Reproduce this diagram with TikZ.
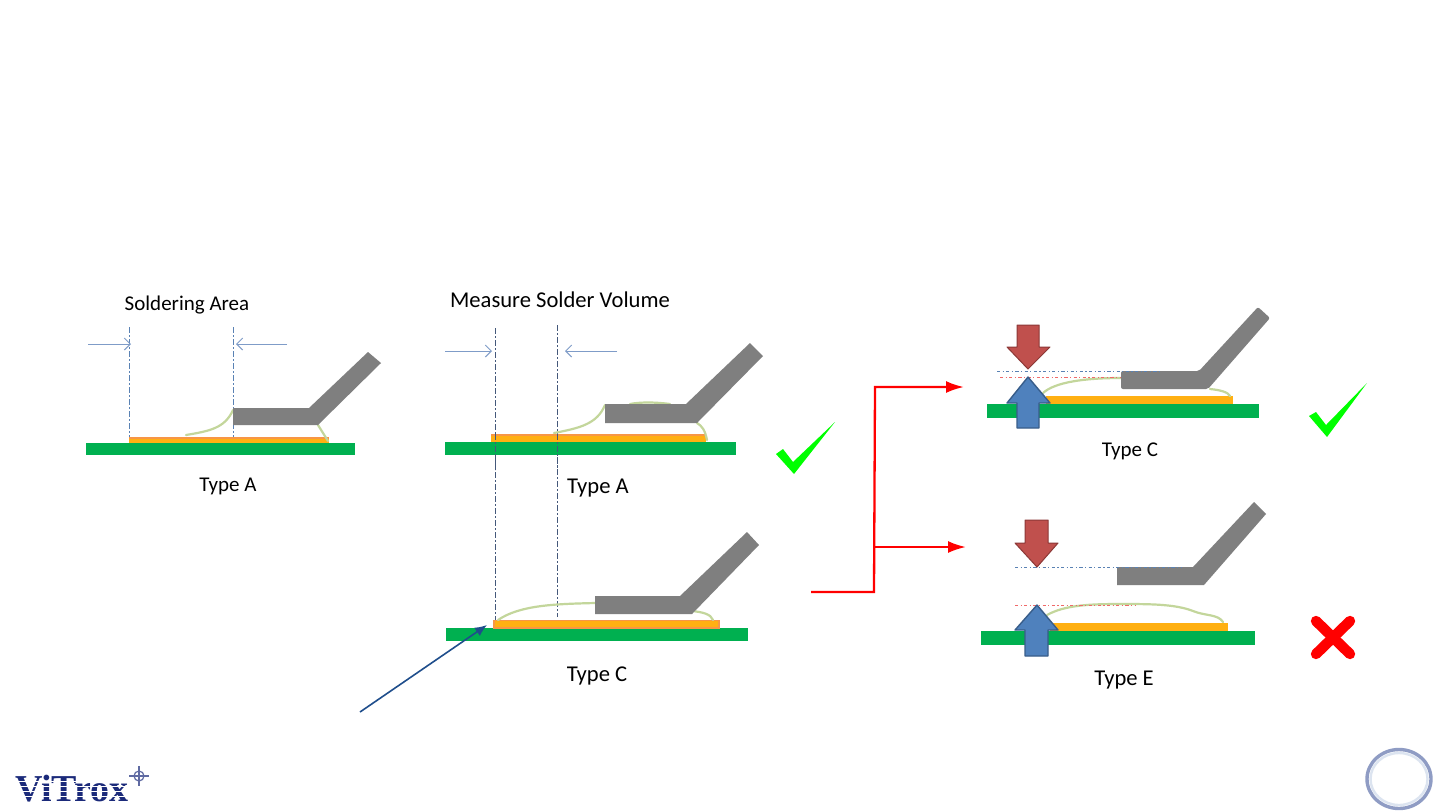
\documentclass[tikz,border=0pt]{standalone}
\usepackage{fontspec}
\setmainfont{Carlito}
\newfontfamily\logofont{Liberation Serif}
\usetikzlibrary{arrows.meta}
\definecolor{pcbgreen}{HTML}{00B050}
\definecolor{padorange}{HTML}{FFB012}
\definecolor{padedge}{HTML}{F79646}
\definecolor{leadgray}{HTML}{7F7F7F}
\definecolor{solder}{HTML}{C3D69B}
\definecolor{dimblue}{HTML}{7F9CC8}
\definecolor{guide}{HTML}{5A82B4}
\definecolor{guidedark}{HTML}{44587A}
\definecolor{guidered}{HTML}{F06A6A}
\definecolor{navy}{HTML}{1F4E8C}
\definecolor{upblue}{HTML}{4F81BD}
\definecolor{upblueedge}{HTML}{385D8A}
\definecolor{downred}{HTML}{C0504D}
\definecolor{downrededge}{HTML}{8C3836}
\definecolor{tick}{HTML}{00FF00}
\definecolor{logoblue}{HTML}{1B2A7A}
\definecolor{ringouter}{HTML}{8F9CC4}
\definecolor{ringinner}{HTML}{DCE4F0}
\tikzset{
  board/.style={fill=pcbgreen,draw=none},
  pad/.style={fill=padorange,draw=padedge,line width=0.7pt},
  padplain/.style={fill=padorange,draw=none},
  lead/.style={fill=leadgray,draw=none},
  joint/.style={draw=solder,line width=1.1pt,line cap=round},
  guideline/.style={draw=guide,line width=0.4pt,dash pattern=on 3pt off 1.2pt on 0.6pt off 1.2pt},
  guidelinedark/.style={guideline,draw=guidedark},
  levelblue/.style={draw=guide,line width=0.45pt,dash pattern=on 1.6pt off 1.2pt on 0.6pt off 1.2pt},
  levelred/.style={draw=guidered,line width=0.45pt,dash pattern=on 1.6pt off 1.2pt on 0.6pt off 1.2pt},
  dimarrow/.style={draw=dimblue,line width=0.5pt,-{Straight Barb[length=3pt,width=6pt]}},
  redline/.style={draw=red,line width=1.15pt},
  redarrow/.style={redline,-{Latex[length=9pt,width=6pt]}},
  navyarrow/.style={draw=navy,line width=0.8pt,-{Latex[length=6pt,width=5pt]}},
  uparrow/.style={fill=upblue,draw=upblueedge,line width=0.7pt,line join=round},
  downarrow/.style={fill=downred,draw=downrededge,line width=0.5pt,line join=round},
  tickmark/.style={fill=tick,draw=none},
  lbl/.style={text=black,inner sep=0pt},
  lblS/.style={lbl,font=\fontsize{10.5pt}{12pt}\selectfont},
  lblL/.style={lbl,font=\fontsize{11.3pt}{13pt}\selectfont},
}
\begin{document}
\begin{tikzpicture}[x=0.5pt,y=-0.5pt]
\useasboundingbox[fill=white] (0,0) rectangle (1440,810);

% ---- left panel
\draw[guideline] (129,327) -- (129,437);
\draw[guideline] (233,327) -- (233,437);
\fill[board] (86,443) rectangle (355,455);
\draw[padplain] (129,437) rectangle (329,443);
\fill[padedge] (129,437) rectangle (329,439);
\draw[joint] (186,435) .. controls (210,431) and (225,428) .. (233,410);
\draw[joint] (318,425) -- (328,441);
\fill[lead] (233,408) -- (309,408) -- (368,352) -- (381,363) -- (318,425) -- (233,425) -- cycle;
\coordinate (a1s) at (88,344); \coordinate (a1e) at (131,344);
\coordinate (a2s) at (287,344); \coordinate (a2e) at (236,344);
\draw[dimarrow] (a1s) -- (a1e);
\draw[dimarrow] (a2s) -- (a2e);
\node[lblS] (t1) at (187,305) {Soldering Area};
\node[lblS] (t2) at (228,486) {Type A};

% ---- middle top
\draw[guidelinedark] (495,328) -- (495,620);
\draw[guidelinedark] (557,325) -- (557,617);
\fill[board] (445,442) rectangle (736,455);
\fill[padorange] (491,434) rectangle (706,442);
\fill[padedge] (491,434) rectangle (706,436);
\draw[guidelinedark] (495,434) -- (495,470);
\draw[guidelinedark] (557,434) -- (557,470);
\draw[joint] (554,433) .. controls (580,428) and (597,424) .. (605,405);
\draw[joint] (630,404) .. controls (640,402) and (655,402) .. (670,404);
\draw[joint] (697,423) .. controls (702,426) and (705,430) .. (707,440);
\fill[lead] (605,404) -- (686,404) -- (750,343) -- (763,356) -- (697,423) -- (605,423) -- cycle;
\coordinate (b1s) at (445,351); \coordinate (b1e) at (492,351);
\coordinate (b2s) at (617,351); \coordinate (b2e) at (565,351);
\draw[dimarrow] (b1s) -- (b1e);
\draw[dimarrow] (b2s) -- (b2e);
\node[lblL] (t3) at (560,300) {Measure Solder Volume};
\node[lblL] (t4) at (598,488) {Type A};
\fill[tickmark] (776,454) -- (783,449) -- (793,462) -- (835,422) -- (794,474) -- cycle;

% ---- middle bottom
\fill[board] (446,628) rectangle (748,641);
\draw[pad] (494,620.5) rectangle (719,628);
\draw[joint] (498,620) .. controls (520,605) and (555,604) .. (595,603);
\draw[joint] (692,611) .. controls (702,612) and (711,614) .. (713,620);
\fill[lead] (595,596) -- (680,596) -- (747,532) -- (759,545) -- (692,614) -- (595,614) -- cycle;
\node[lblL] (t5) at (597,676) {Type C};
\coordinate (n1) at (360,712); \coordinate (n2) at (487,625);
\draw[navyarrow] (n1) -- (n2);

% ---- red connector
\coordinate (r0) at (811,592); \coordinate (r1) at (874,592);
\coordinate (r2) at (875,387); \coordinate (r3) at (964,387);
\coordinate (r4) at (874,547); \coordinate (r5) at (966,547);
\draw[redarrow,line join=miter] (r0) -- (r1) -- (r2) -- (r3);
\draw[redarrow] (r4) -- (r5);

% ---- right top
\fill[board] (987,404) rectangle (1259,418);
\fill[padorange] (1046,396) rectangle (1233,404);
\draw[joint] (1043,393) .. controls (1055,382) and (1085,378) .. (1121,378);
\draw[joint] (1210,389) .. controls (1220,390) and (1228,392) .. (1230,396);
\fill[lead,rounded corners=1pt] (1121,371) -- (1199,371) -- (1258,307) -- (1270,318) -- (1208,389) -- (1121,389) -- cycle;
\draw[levelblue] (997,371) -- (1162,371);
\draw[levelred] (1000,377) -- (1121,377);
\draw[downarrow] (1017,325) -- (1039,325) -- (1039,347) -- (1050,347) -- (1028,369) -- (1007,347) -- (1017,347) -- cycle;
\draw[uparrow] (1017,428) -- (1039,428) -- (1039,403) -- (1050,403) -- (1028,377) -- (1007,403) -- (1017,403) -- cycle;
\node[lblS] (t6) at (1130,451) {Type C};
\fill[tickmark] (1309,416) -- (1316,412) -- (1326,425) -- (1367,383) -- (1327,437) -- cycle;

% ---- right bottom
\fill[board] (981,631) rectangle (1255,645);
\fill[padorange] (1050,623) rectangle (1228,631);
\draw[joint] (1047,615) .. controls (1065,605) and (1090,604) .. (1120,604) .. controls (1150,604) and (1175,604) .. (1193,611) .. controls (1205,616) and (1218,614) .. (1223,622);
\fill[lead] (1117,567) -- (1193,567) -- (1254,502) -- (1266,514) -- (1204,585) -- (1117,585) -- cycle;
\draw[levelblue] (1015,567) -- (1182,567);
\draw[levelred] (1015,605) -- (1135,605);
\draw[downarrow] (1025,520) -- (1048,520) -- (1048,543) -- (1058,543) -- (1037,567) -- (1015,543) -- (1025,543) -- cycle;
\draw[uparrow] (1025,656) -- (1048,656) -- (1048,630) -- (1058,630) -- (1037,605) -- (1015,630) -- (1025,630) -- cycle;
\node[lblL] (t7) at (1124,680) {Type E};
\draw[red,line width=5.2pt,line cap=round] (1316,621) -- (1350,654);
\draw[red,line width=5.2pt,line cap=round] (1350,621) -- (1316,654);

% ---- logo
\node[inner sep=0pt,anchor=base west,text=logoblue] (logo) at (15,801)
  {\logofont\bfseries\fontsize{19pt}{20pt}\selectfont ViTrox};
\foreach \yy in {781,786,791,796}{
  \draw[white,line width=0.35pt] (14,\yy) -- (132,\yy);
}
\draw[logoblue!70,line width=0.6pt] (139,776) circle[radius=5];
\draw[logoblue!70,line width=0.6pt] (139,766) -- (139,786) (129,776) -- (149,776);

% ---- corner ring
\draw[draw=ringinner,line width=1.2pt] (1399,779) ellipse[x radius=28.5,y radius=26];
\draw[draw=ringouter,line width=1.7pt] (1399,779) ellipse[x radius=32,y radius=29.5];
\end{tikzpicture}
\end{document}
